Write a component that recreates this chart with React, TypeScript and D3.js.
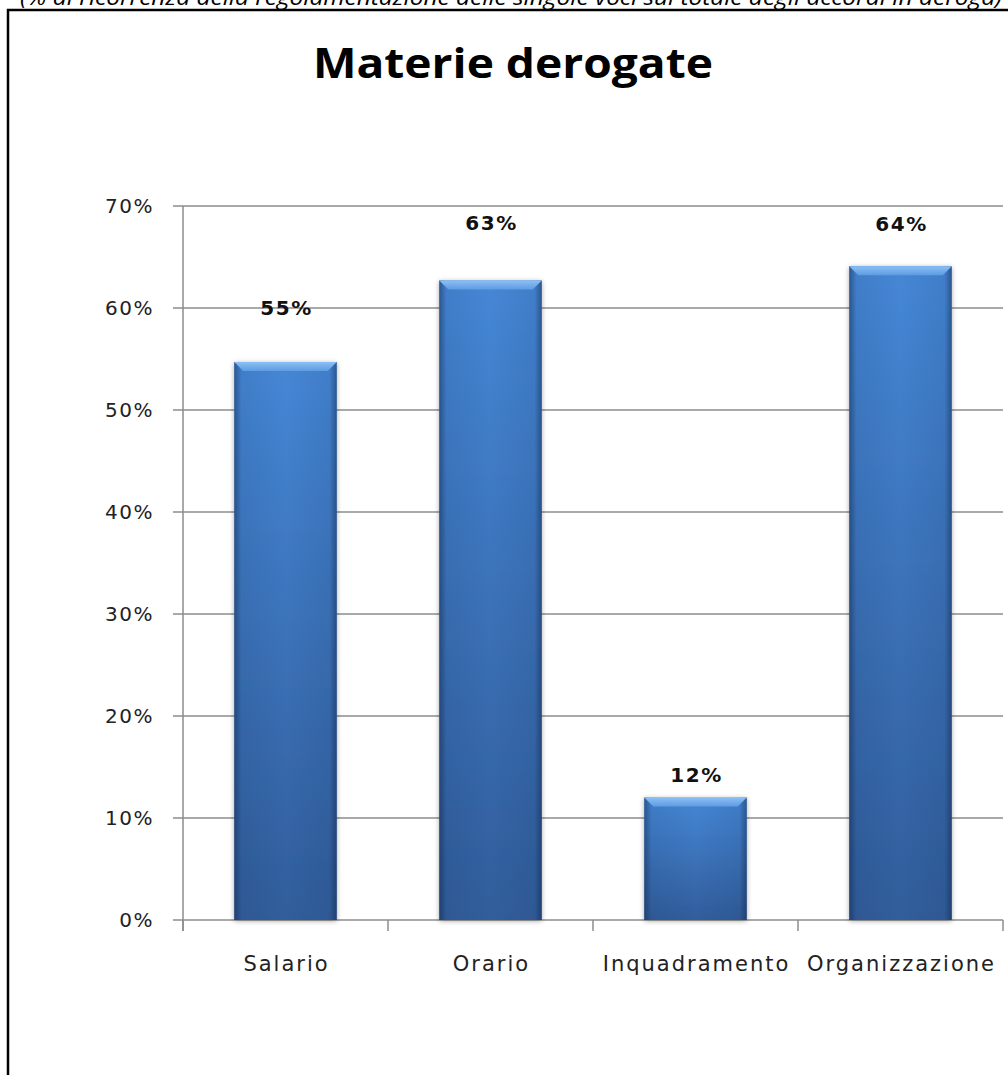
import React from "react";
import * as d3 from "d3";

const categories = ["Salario", "Orario", "Inquadramento", "Organizzazione"];
const values = [0.547, 0.627, 0.12, 0.641];
const valueLabels = ["55%", "63%", "12%", "64%"];
const yTicks = [0, 0.1, 0.2, 0.3, 0.4, 0.5, 0.6, 0.7];
const title = "Materie derogate";
const caption =
  "(% di ricorrenza della regolamentazione delle singole voci sul totale degli accordi in deroga)";

// layout tweaks (pixels between bar top and data-label centre)
const labelLift = [54, 58, 23, 42];

const W = 1008;
const H = 1075;

export default function App() {
  const x = d3
    .scaleBand<string>()
    .domain(categories)
    .range([183, 1003])
    .paddingInner(0.5)
    .paddingOuter(0.25);
  const y = d3.scaleLinear().domain([0, 0.7]).range([920, 206]);
  const step = x.step();
  const bw = x.bandwidth();
  const fmt = d3.format(".0%");
  const tickFont = "'DejaVu Sans', Verdana, sans-serif";

  return (
    <svg
      width={W}
      height={H}
      style={{ position: "absolute", left: 0, top: 0, background: "#fff" }}
    >
      <defs>
        <linearGradient id="barV" x1="0" y1="0" x2="0" y2="1">
          <stop offset="0%" stopColor="#4587d6" />
          <stop offset="100%" stopColor="#315d9b" />
        </linearGradient>
        <linearGradient id="barH" x1="0" y1="0" x2="1" y2="0">
          <stop offset="0%" stopColor="#0a1a3a" stopOpacity="0.45" />
          <stop offset="7%" stopColor="#0a1a3a" stopOpacity="0.08" />
          <stop offset="50%" stopColor="#0a1a3a" stopOpacity="0" />
          <stop offset="93%" stopColor="#0a1a3a" stopOpacity="0.08" />
          <stop offset="100%" stopColor="#0a1a3a" stopOpacity="0.45" />
        </linearGradient>
        <linearGradient id="bevel" x1="0" y1="0" x2="0" y2="1">
          <stop offset="0%" stopColor="#8cc0f5" />
          <stop offset="100%" stopColor="#5d9be2" />
        </linearGradient>
        <filter id="shadow" x="-20%" y="-5%" width="140%" height="115%">
          <feDropShadow dx="0" dy="1" stdDeviation="2.5" floodColor="#000" floodOpacity="0.35" />
        </filter>
      </defs>

      {/* caption, clipped at the top edge as in the source */}
      <text
        x={20}
        y={5}
        textLength={982}
        lengthAdjust="spacingAndGlyphs"
        fontFamily="'Open Sans', sans-serif"
        fontStyle="italic"
        fontSize={21}
        fill="#000"
      >
        {caption}
      </text>

      {/* frame */}
      <rect x={8} y={10} width={W + 20} height={H + 20} fill="none" stroke="#000" strokeWidth={2.5} />

      {/* title */}
      <text
        x={513}
        y={78}
        textAnchor="middle"
        textLength={400}
        lengthAdjust="spacingAndGlyphs"
        fontFamily="'Open Sans', sans-serif"
        fontWeight="bold"
        fontSize={42}
        fill="#000"
      >
        {title}
      </text>

      {/* gridlines */}
      {yTicks.map((t) => (
        <line
          key={"g" + t}
          x1={173}
          x2={1003}
          y1={y(t)}
          y2={y(t)}
          stroke="#8c8c8c"
          strokeWidth={1.5}
        />
      ))}
      {/* y axis */}
      <line x1={183} x2={183} y1={y(0.7)} y2={y(0) + 11} stroke="#8c8c8c" strokeWidth={1.5} />
      {/* x ticks */}
      {d3.range(categories.length + 1).map((i) => {
        const xx = (x.range()[0] as number) + i * step;
        return (
          <line key={"xt" + i} x1={xx} x2={xx} y1={y(0)} y2={y(0) + 11} stroke="#8c8c8c" strokeWidth={1.5} />
        );
      })}

      {/* y tick labels */}
      {yTicks.map((t) => (
        <text
          key={"yl" + t}
          x={154}
          y={y(t)}
          dy="0.36em"
          textAnchor="end"
          fontFamily={tickFont}
          fontSize={20}
          letterSpacing={1.5}
          fill="#222"
        >
          {fmt(t)}
        </text>
      ))}

      {/* bars */}
      {categories.map((c, i) => {
        const x0 = x(c) as number;
        const y0 = y(values[i]);
        const h = y(0) - y0;
        const b = 9;
        return (
          <g key={"b" + c}>
            <rect x={x0} y={y0} width={bw} height={h} fill="url(#barV)" filter="url(#shadow)" />
            <rect x={x0} y={y0} width={bw} height={h} fill="url(#barH)" />
            <polygon
              points={`${x0},${y0} ${x0 + bw},${y0} ${x0 + bw - b},${y0 + b} ${x0 + b},${y0 + b}`}
              fill="url(#bevel)"
            />
          </g>
        );
      })}

      {/* data labels */}
      {categories.map((c, i) => (
        <text
          key={"dl" + c}
          x={(x(c) as number) + bw / 2 + 1}
          y={y(values[i]) - labelLift[i]}
          dy="0.36em"
          textAnchor="middle"
          fontFamily={tickFont}
          fontWeight="bold"
          fontSize={20}
          letterSpacing={1.5}
          fill="#111"
        >
          {valueLabels[i]}
        </text>
      ))}

      {/* category labels */}
      {categories.map((c) => (
        <text
          key={"cl" + c}
          x={(x(c) as number) + bw / 2 + 1}
          y={971}
          textAnchor="middle"
          fontFamily={tickFont}
          fontSize={21}
          letterSpacing={2}
          fill="#222"
        >
          {c}
        </text>
      ))}
    </svg>
  );
}
